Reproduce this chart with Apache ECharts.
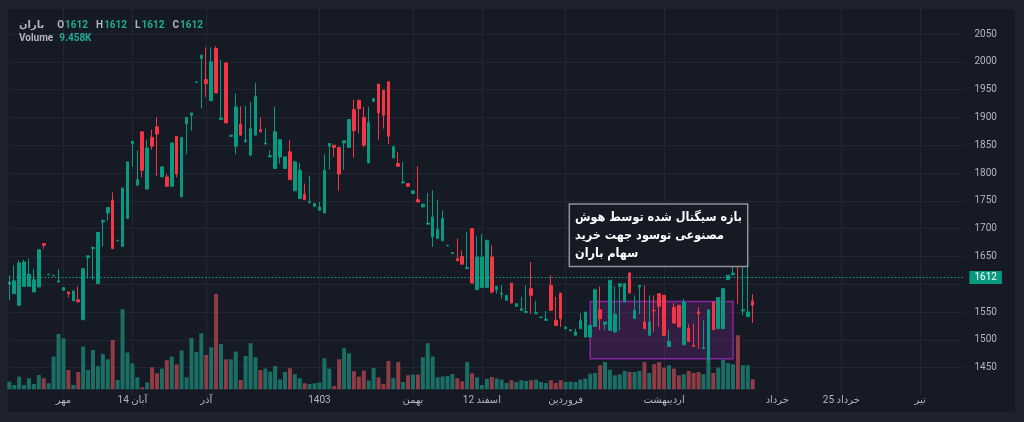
<!DOCTYPE html>
<html><head><meta charset="utf-8">
<script src="https://cdn.jsdelivr.net/npm/echarts@6/dist/echarts.min.js"></script>
<style>
html,body{margin:0;padding:0;background:#1e222d;width:1024px;height:422px;overflow:hidden}
#panel{position:absolute;left:8px;top:9px;width:1007px;height:403px;background:#161a25}
#chart{position:absolute;left:0;top:0;width:1024px;height:422px}
</style></head><body>
<div id="panel"></div><div id="chart"></div>
<script>
const symbolName = 'باران';
const opens=[1600,1583,1562,1596,1596,1586,1595,1673,1617,1615,1604,1589,1586,1570,1572,1536,1648,1664,1601,1712,1728,1751,1678,1668,1718,1853,1778,1874,1771,1864,1883,1793,1793,1776,1866,1757,1889,1904,1963,2006,1968,1930,2024,1896,1998,1866,1848,1888,1857,1832,1868,1878,1852,1829,1808,1829,1808,1838,1768,1754,1762,1747,1740,1733,1728,1848,1850,1846,1854,1846,1914,1931,1900,1818,1929,1960,1949,1964,1827,1817,1782,1781,1763,1752,1739,1708,1685,1682,1678,1669,1655,1646,1650,1628,1700,1590,1594,1594,1649,1590,1582,1571,1602,1560,1553,1549,1592,1547,1540,1535,1598,1535,1584,1520,1516,1508,1520,1505,1505,1524,1554,1528,1517,1514,1596,1568,1620,1538,1595,1532,1508,1553,1583,1580,1488,1558,1562,1491,1520,1490,1550,1484,1464,1568,1520,1520,1608,1617,1662,1552,1542,1570];
const highs=[1616,1634,1643,1644,1646,1627,1662,1673,1618,1616,1627,1594,1586,1588,1596,1628,1651,1668,1693,1715,1739,1765,1680,1773,1820,1857,1841,1875,1860,1878,1900,1811,1799,1854,1866,1864,1900,1908,1964,2012,2026,2026,2028,2003,1998,1868,1943,1920,1920,1928,1962,1900,1880,1841,1919,1860,1829,1859,1822,1818,1781,1795,1745,1748,1834,1853,1850,1846,1858,1896,1932,1931,1919,1919,1934,1960,1949,1964,1849,1838,1820,1781,1768,1812,1744,1764,1769,1752,1733,1670,1657,1682,1661,1694,1700,1686,1690,1679,1670,1597,1598,1580,1602,1565,1577,1598,1640,1570,1541,1552,1616,1577,1584,1523,1518,1520,1548,1550,1526,1592,1596,1532,1607,1596,1601,1601,1622,1580,1598,1598,1580,1580,1583,1580,1518,1566,1562,1574,1528,1529,1559,1535,1554,1568,1576,1592,1616,1640,1662,1632,1634,1582];
const lows=[1571,1583,1562,1596,1596,1586,1595,1664,1617,1615,1603,1589,1576,1570,1568,1536,1610,1608,1601,1668,1714,1664,1678,1668,1718,1811,1778,1792,1771,1842,1794,1793,1775,1776,1792,1757,1834,1876,1963,1916,1937,1930,1944,1896,1890,1866,1834,1868,1854,1832,1868,1874,1852,1829,1808,1817,1808,1788,1768,1754,1752,1745,1740,1733,1728,1806,1829,1768,1806,1846,1828,1871,1846,1818,1929,1860,1880,1852,1827,1812,1782,1776,1763,1747,1739,1708,1667,1682,1678,1669,1655,1642,1636,1628,1602,1590,1594,1594,1583,1583,1574,1571,1566,1560,1553,1548,1547,1547,1540,1535,1553,1524,1523,1520,1516,1508,1520,1505,1505,1524,1518,1517,1517,1514,1517,1568,1584,1538,1546,1520,1508,1514,1523,1508,1488,1530,1523,1491,1497,1488,1484,1484,1464,1518,1520,1520,1608,1616,1565,1544,1542,1530];
const closes=[1604,1606,1638,1640,1618,1608,1662,1670,1618,1616,1606,1594,1583,1588,1568,1628,1651,1666,1693,1715,1738,1664,1679,1773,1820,1857,1788,1805,1845,1848,1870,1811,1776,1854,1798,1864,1900,1908,1964,2012,1961,2000,1944,1899,1890,1868,1919,1868,1859,1880,1938,1874,1854,1831,1874,1860,1829,1788,1820,1805,1752,1749,1745,1739,1805,1853,1846,1798,1858,1896,1876,1916,1850,1891,1934,1908,1904,1866,1847,1812,1784,1776,1768,1748,1744,1710,1721,1699,1718,1670,1657,1642,1636,1630,1602,1649,1649,1679,1586,1596,1584,1580,1566,1565,1556,1551,1580,1549,1541,1537,1553,1526,1538,1523,1518,1514,1535,1550,1526,1590,1538,1532,1607,1546,1601,1601,1584,1553,1598,1520,1532,1552,1560,1508,1497,1530,1523,1568,1497,1488,1547,1486,1554,1518,1576,1592,1616,1620,1640,1554,1550,1562];
const volumes=[7.3,4.1,12.1,4.1,10.5,5.0,13.6,10.5,5.7,31.1,52.5,48.5,18.3,4.1,16.4,40.6,18.3,37.3,22.1,33.5,28.5,46.8,8.8,76,34.9,24.7,11.4,1.9,6.4,20.9,15.2,19.7,27.8,31.1,23.5,36.8,11.4,48.7,35.4,53.2,32.6,39.9,90.5,43,28.5,28.5,35.8,8.8,31.6,43.7,30.4,18.3,19.7,16.8,22.1,9.5,16.4,20,14.5,10.5,5.7,5,5.7,6.4,29.5,19.7,3.1,28.5,39,34.2,17.1,12.1,17.8,8.3,20.2,11.4,5,26.9,10.7,25.9,6.9,13.3,14,14,30.4,43.7,31.1,11.4,12.1,12.6,14.5,10.5,7.6,25.9,15.2,11.4,4.1,10,11.7,10.2,9.2,6,8.6,6.9,8.6,7.9,8.6,9.2,6.9,6,8.6,6,8.6,6.9,7.3,6.9,9.2,10.2,14.9,15.5,22.8,25.9,18.7,13.3,14.3,17.4,16.4,16.4,17.4,25.9,15.5,23.8,25.9,20.6,22.8,19.7,13.3,14.3,17.4,15.5,16.4,14.3,28.2,15.5,20.6,28.2,25,23.8,51.3,22.8,22.8,9.458];
const lastQuote = {o:1612, h:1612, l:1612, c:1612};
const lastVolumeK = 9.458;
const totalSlots = 195;
const tickIndex = [11, 25, 40, 63, 82, 96, 113, 133, 156, 169, 185];
const tickText = ['مهر', '14 آبان', 'آذر', '1403', 'بهمن', '12 اسفند', 'فروردین', 'اردیبهشت', 'خرداد', '25 خرداد', 'تیر'];
const signalRange = {from:118, to:147, top:1569, bottom:1466};
const noteText = ['بازه سیگنال شده توسط هوش', 'مصنوعی توسود جهت خرید', 'سهام باران'];
const noteAnchor = {x:113.5, y:1742};

const categories = [];
for (let i = 0; i < totalSlots; i++) categories.push('');
tickIndex.forEach((ix, k) => { categories[ix] = tickText[k]; });
const tickSet = new Set(tickIndex);

const UP = '#089981', DOWN = '#f23645';
const candleData = opens.map((o, i) => [o, closes[i], lows[i], highs[i]]);
const volData = volumes.map((v, i) => ({
  value: v,
  itemStyle: {color: closes[i] >= opens[i] ? '#1a6e64' : '#8e3c45'}
}));

const FONT = 'Roboto, "DejaVu Sans", sans-serif';
const chart = echarts.init(document.getElementById('chart'), null, {renderer:'canvas'});
chart.setOption({
  animation: false,
  backgroundColor: 'transparent',
  textStyle: {fontFamily: FONT},
  title: {
    left: 14, top: 14,
    text: '{n|' + symbolName + '}{k|O}{v|' + lastQuote.o + '}{k|H}{v|' + lastQuote.h + '}{k|L}{v|' + lastQuote.l + '}{k|C}{v|' + lastQuote.c + '}\n{k0|Volume}{v|' + lastVolumeK.toFixed(3) + 'K}',
    textStyle: {
      fontFamily: FONT, lineHeight: 13,
      rich: {
        n: {color:'#b2b5be', fontSize:10, padding:[0,5,0,0], fontFamily: FONT},
        k: {color:'#b2b5be', fontSize:10, padding:[0,1,0,8], fontFamily: FONT},
        k0: {color:'#b2b5be', fontSize:10, padding:[0,6,0,0], fontFamily: FONT},
        v: {color:'#22ab94', fontSize:10, fontFamily: FONT}
      }
    }
  },
  grid: {left: 9.3, right: 59.6, top: 6.2, bottom: 26.6},
  xAxis: {
    type: 'category', data: categories, boundaryGap: false,
    axisLine: {show:false}, axisTick: {show:false},
    axisLabel: {interval: 0, color:'#b2b5be', fontSize:10, margin: 0, fontFamily: FONT},
    splitLine: {show:true, interval: (i) => tickSet.has(i), lineStyle:{color:'#222632', width:1}}
  },
  yAxis: [{
    type: 'value', position: 'right', min: 1400, max: 2100, interval: 50, scale: true,
    axisLine: {show:false}, axisTick: {show:false},
    axisLabel: {color:'#b2b5be', fontSize:10, margin: 10, fontFamily: FONT,
      formatter: (v) => (v === 1400 || v === 2100 || v === 1600) ? '' : String(v)},
    splitLine: {show:true, showMinLine:false, showMaxLine:false, lineStyle:{color:'#222632', width:1}}
  }, {
    type: 'value', show: false, min: -5.8, max: 363.9,
    splitLine: {show:false}
  }],
  series: [{
    type: 'bar', yAxisIndex: 1, data: volData, barWidth: 4, clip: false, z: 1,
    markLine: {
      silent: true, symbol: 'none',
      lineStyle: {opacity: 0},
      label: {show:true, position:'end', distance: 5, formatter: lastVolumeK.toFixed(3) + 'K',
        color:'#ffffff', fontSize:10, backgroundColor:'#22a08e', padding:[2,4,1,4], fontFamily: FONT},
      data: [{yAxis: lastVolumeK}]
    }
  }, {
    type: 'candlestick', data: candleData, barWidth: 3, clip: false, z: 3,
    itemStyle: {color: UP, color0: DOWN, borderColor: UP, borderColor0: DOWN, borderWidth: 1},
    markLine: {
      silent: true, symbol: 'none',
      lineStyle: {color: '#14a38b', type: [1.5,2], width: 1},
      label: {show:true, position:'end', distance: 5, formatter: String(lastQuote.c),
        color:'#ffffff', fontSize:10, backgroundColor:'#089981', padding:[2,5,1,5], fontFamily: FONT},
      data: [{yAxis: lastQuote.c}]
    },
    markArea: {
      silent: true,
      itemStyle: {color: 'rgba(156,39,176,0.22)', borderColor: 'rgba(156,39,176,0.85)', borderWidth: 1.5},
      data: [[{coord: [signalRange.from, signalRange.top]}, {coord: [signalRange.to, signalRange.bottom]}]]
    },
    markPoint: {
      silent: true,
      data: [{
        coord: [noteAnchor.x, noteAnchor.y], symbol: 'rect', symbolSize: 1,
        itemStyle: {color: 'rgba(0,0,0,0)'},
        label: {
          show: true, position: [0, 0], align: 'left', verticalAlign: 'top',
          formatter: noteText.join('\n'),
          color: '#ffffff', fontSize: 12.5, fontWeight: 'bold', lineHeight: 18,
          fontFamily: '"DejaVu Sans Condensed", "DejaVu Sans", sans-serif',
          backgroundColor: '#161a25', borderColor: '#8d949e', borderWidth: 1.5,
          padding: [4, 5, 3, 5]
        }
      }]
    }
  }]
});
</script></body></html>
